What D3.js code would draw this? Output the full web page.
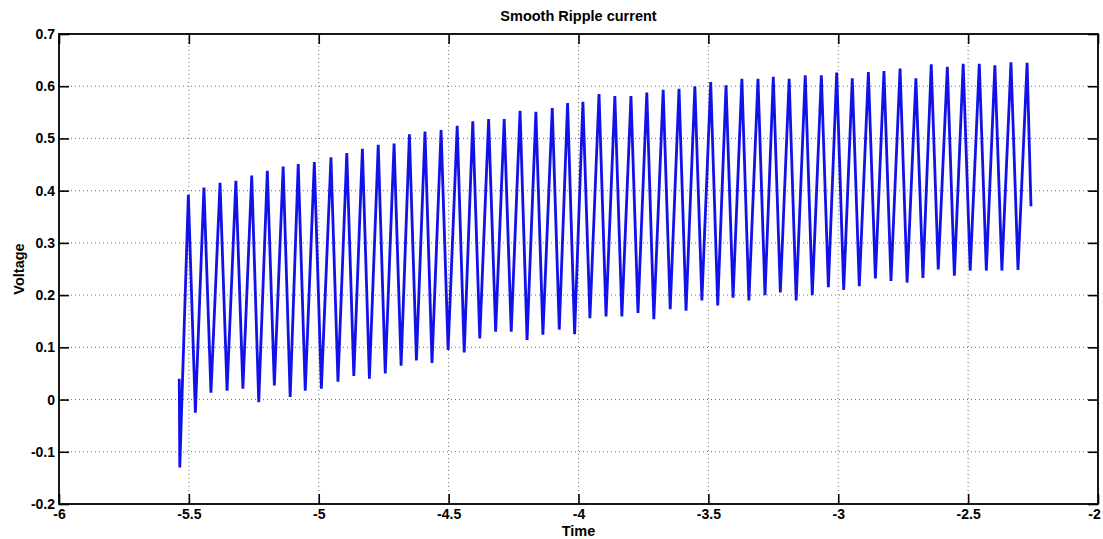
<!DOCTYPE html>
<html>
<head>
<meta charset="utf-8">
<script src="https://cdn.jsdelivr.net/npm/d3@7"></script>
<style>
  html, body { margin: 0; padding: 0; background: #fff; }
  svg { display: block; }
  text { font-family: "Liberation Sans", Arial, Helvetica, sans-serif; font-weight: bold; fill: #000; }
</style>
</head>
<body>
<svg id="chart" width="1103" height="539"></svg>
<script>
// Ripple waveform: times (s) and voltages of each crest and trough
const peakTime = [-5.502, -5.442, -5.380, -5.319, -5.258, -5.198, -5.137, -5.079, -5.017, -4.953,
  -4.892, -4.832, -4.771, -4.710, -4.651, -4.591, -4.529, -4.467, -4.407, -4.346,
  -4.286, -4.225, -4.164, -4.101, -4.042, -3.983, -3.921, -3.860, -3.798, -3.737,
  -3.674, -3.613, -3.552, -3.491, -3.432, -3.371, -3.309, -3.250, -3.189, -3.127,
  -3.065, -3.006, -2.946, -2.884, -2.824, -2.762, -2.701, -2.642, -2.580, -2.519,
  -2.457, -2.397, -2.335, -2.273];
const peakVolt = [0.392, 0.406, 0.415, 0.419, 0.429, 0.438, 0.446, 0.451, 0.455, 0.464,
  0.472, 0.480, 0.488, 0.490, 0.508, 0.513, 0.516, 0.524, 0.533, 0.537,
  0.537, 0.553, 0.551, 0.558, 0.568, 0.570, 0.585, 0.581, 0.581, 0.588,
  0.593, 0.595, 0.600, 0.608, 0.602, 0.614, 0.614, 0.618, 0.614, 0.621,
  0.621, 0.626, 0.615, 0.627, 0.629, 0.634, 0.615, 0.642, 0.637, 0.643,
  0.643, 0.640, 0.646, 0.645];
const troughTime = [-5.475, -5.415, -5.353, -5.292, -5.231, -5.171, -5.110, -5.052, -4.990, -4.926,
  -4.865, -4.805, -4.744, -4.683, -4.624, -4.564, -4.502, -4.440, -4.380, -4.319,
  -4.259, -4.198, -4.137, -4.074, -4.015, -3.956, -3.894, -3.833, -3.771, -3.710,
  -3.647, -3.586, -3.525, -3.464, -3.405, -3.344, -3.282, -3.223, -3.162, -3.100,
  -3.038, -2.979, -2.919, -2.857, -2.797, -2.735, -2.674, -2.615, -2.553, -2.492,
  -2.430, -2.370, -2.308];
const troughVolt = [-0.025, 0.013, 0.017, 0.021, -0.005, 0.027, 0.005, 0.017, 0.021, 0.034,
  0.045, 0.040, 0.050, 0.065, 0.075, 0.070, 0.095, 0.090, 0.117, 0.130,
  0.130, 0.114, 0.124, 0.134, 0.125, 0.156, 0.159, 0.159, 0.166, 0.154,
  0.173, 0.170, 0.190, 0.180, 0.195, 0.190, 0.200, 0.205, 0.190, 0.200,
  0.215, 0.210, 0.217, 0.232, 0.227, 0.224, 0.233, 0.249, 0.237, 0.247,
  0.247, 0.247, 0.248];
// switch-on transient and final sample
const startTime = [-5.537, -5.535];
const startVolt = [0.040, -0.130];
const endTime = -2.258;
const endVolt = 0.370;

// axis ticks
const xTicks = [-6, -5.5, -5, -4.5, -4, -3.5, -3, -2.5, -2];
const xTickLabels = ["-6", "-5.5", "-5", "-4.5", "-4", "-3.5", "-3", "-2.5", "-2"];
const yTicks = [-0.2, -0.1, 0, 0.1, 0.2, 0.3, 0.4, 0.5, 0.6, 0.7];
const yTickLabels = ["-0.2", "-0.1", "0", "0.1", "0.2", "0.3", "0.4", "0.5", "0.6", "0.7"];

const titleText = "Smooth Ripple current";
const xLabel = "Time";
const yLabel = "Voltage";

// layout
const margin = { left: 59, right: 5, top: 34, bottom: 35 };
const W = 1103, H = 539;
const plotW = W - margin.left - margin.right;
const plotH = H - margin.top - margin.bottom;

const svg = d3.select("#chart");
const g = svg.append("g").attr("transform", `translate(${margin.left},${margin.top})`);

const x = d3.scaleLinear().domain([-6, -2]).range([0, plotW]);
const y = d3.scaleLinear().domain([-0.2, 0.7]).range([plotH, 0]);

// dotted grid
g.append("g").selectAll("line")
  .data(xTicks.slice(1, -1)).join("line")
  .attr("x1", d => x(d)).attr("x2", d => x(d))
  .attr("y1", 0).attr("y2", plotH)
  .attr("stroke", "#6f6f6f").attr("stroke-width", 1)
  .attr("stroke-dasharray", "1,3");
g.append("g").selectAll("line")
  .data(yTicks.slice(1, -1)).join("line")
  .attr("y1", d => y(d)).attr("y2", d => y(d))
  .attr("x1", 0).attr("x2", plotW)
  .attr("stroke", "#6f6f6f").attr("stroke-width", 1)
  .attr("stroke-dasharray", "1,3");

// waveform points
const pts = [];
startTime.forEach((t, i) => pts.push([t, startVolt[i]]));
peakTime.forEach((t, i) => {
  pts.push([t, peakVolt[i]]);
  if (i < troughTime.length) pts.push([troughTime[i], troughVolt[i]]);
});
pts.push([endTime, endVolt]);

g.append("clipPath").attr("id", "plotClip")
  .append("rect").attr("width", plotW).attr("height", plotH);

g.append("path")
  .datum(pts)
  .attr("clip-path", "url(#plotClip)")
  .attr("fill", "none")
  .attr("stroke", "#1212e8")
  .attr("stroke-width", 2.8)
  .attr("stroke-linejoin", "miter")
  .attr("stroke-miterlimit", 10)
  .attr("d", d3.line().x(d => x(d[0])).y(d => y(d[1])));

// axes: ticks on all four sides, pointing inward
const tickLen = 10;
const axisBottom = d3.axisBottom(x).tickValues(xTicks)
  .tickFormat((d, i) => xTickLabels[i]).tickSizeInner(-tickLen).tickSizeOuter(0).tickPadding(5);
const axisTop = d3.axisTop(x).tickValues(xTicks)
  .tickFormat("").tickSizeInner(-tickLen).tickSizeOuter(0);
const axisLeft = d3.axisLeft(y).tickValues(yTicks)
  .tickFormat((d, i) => yTickLabels[i]).tickSizeInner(-tickLen).tickSizeOuter(0).tickPadding(4);
const axisRight = d3.axisRight(y).tickValues(yTicks)
  .tickFormat("").tickSizeInner(-tickLen).tickSizeOuter(0);

function styleAxis(sel) {
  sel.select(".domain").remove();
  sel.selectAll(".tick line").attr("stroke", "#000").attr("stroke-width", 1.6);
  sel.selectAll(".tick text").attr("font-size", "14px").attr("font-weight", "bold")
    .attr("font-family", "'Liberation Sans', Arial, sans-serif").attr("fill", "#000");
}

const gx = g.append("g").attr("transform", `translate(0,${plotH})`).call(axisBottom).call(styleAxis);
// keep the last x label inside the page
gx.selectAll(".tick text").filter((d, i) => i === xTicks.length - 1).attr("dx", "-4");
g.append("g").call(axisTop).call(styleAxis);
g.append("g").call(axisLeft).call(styleAxis);
g.append("g").attr("transform", `translate(${plotW},0)`).call(axisRight).call(styleAxis);

// box
g.append("rect").attr("width", plotW).attr("height", plotH)
  .attr("fill", "none").attr("stroke", "#000").attr("stroke-width", 1.8);

// titles
svg.append("text").attr("x", margin.left + plotW / 2).attr("y", 21)
  .attr("text-anchor", "middle").attr("font-size", "14.5px").text(titleText);
svg.append("text").attr("x", margin.left + plotW / 2).attr("y", 536)
  .attr("text-anchor", "middle").attr("font-size", "14.5px").text(xLabel);
svg.append("text")
  .attr("transform", `translate(24,${margin.top + plotH / 2}) rotate(-90)`)
  .attr("text-anchor", "middle").attr("font-size", "14.5px").text(yLabel);
</script>
</body>
</html>
